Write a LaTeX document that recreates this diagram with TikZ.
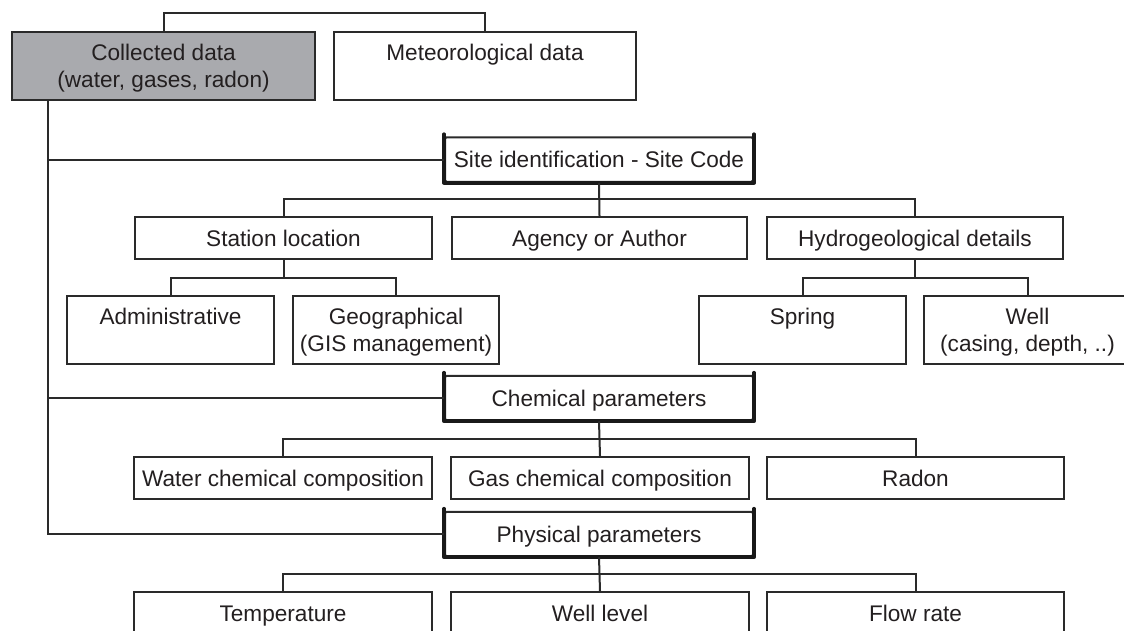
\documentclass[tikz,border=0pt]{standalone}
\usepackage{fontspec}
\setmainfont{Liberation Sans}
\usetikzlibrary{calc}
\definecolor{lineclr}{HTML}{2A2A2A}
\definecolor{txtclr}{HTML}{231F20}
\definecolor{grayfill}{HTML}{A9AAAE}
\newcommand\ls{\rule[-5.5pt]{0pt}{27pt}}
\tikzset{
  box/.style={draw=lineclr, line width=2pt, fill=white, rectangle, inner sep=0pt,
    align=center, text=txtclr, font=\fontsize{22.6}{27}\selectfont},
  tallbox/.style={box, minimum height=68pt},
  lowbox/.style={box, minimum height=42pt},
  mainbox/.style={box, minimum height=44.5pt, minimum width=308pt, rounded corners=1.5pt},
  thickedge/.style={draw=black!90, line width=3.8pt, line join=round, line cap=round},
  conn/.style={draw=lineclr, line width=2pt},
}
\begin{document}
\begin{tikzpicture}[x=1pt, y=-1pt]
\clip (0,0) rectangle (1124,630);
\fill[white] (0,0) rectangle (1124,630);

% top row
\node[tallbox, fill=grayfill, minimum width=303pt] (coll) at (163.5,66) {\ls Collected data\\\ls (water, gases, radon)};
\node[tallbox, minimum width=302pt] (met) at (485,66) {\ls Meteorological data\\\ls};

% main boxes
\node[mainbox] (site) at (599,159.5) {\ls Site identification - Site Code};
\node[mainbox] (chem) at (599,398) {\ls Chemical parameters};
\node[mainbox] (phys) at (599,534) {\ls Physical parameters};
\foreach \n in {site,chem,phys}{
  \draw[thickedge] ([yshift=2pt]\n.north west) -- (\n.south west) -- (\n.south east) -- ([yshift=2pt]\n.north east);
}

% site children
\node[lowbox, minimum width=297pt] (station) at (283.5,238) {\ls Station location};
\node[lowbox, minimum width=295pt] (agency) at (599.5,238) {\ls Agency or Author};
\node[lowbox, minimum width=296pt] (hydro) at (915,238) {\ls Hydrogeological details};

\node[tallbox, minimum width=207pt] (admin) at (170.5,330) {\ls Administrative\\\ls};
\node[tallbox, minimum width=206pt] (geo) at (396,330) {\ls Geographical\\\ls (GIS management)};
\node[tallbox, minimum width=207pt] (spring) at (802.5,330) {\ls Spring\\\ls};
\node[tallbox, minimum width=207pt] (well) at (1027.5,330) {\ls Well\\\ls (casing, depth, ..)};

% chemical children
\node[lowbox, minimum width=298pt] (water) at (283,478) {\ls Water chemical composition};
\node[lowbox, minimum width=298pt] (gas) at (600,478) {\ls Gas chemical composition};
\node[lowbox, minimum width=297pt] (radon) at (915.5,478) {\ls Radon};

% physical children
\node[lowbox, minimum width=298pt] (temp) at (283,613) {\ls Temperature};
\node[lowbox, minimum width=298pt] (wlevel) at (600,613) {\ls Well level};
\node[lowbox, minimum width=297pt] (flow) at (915.5,613) {\ls Flow rate};

% connectors
\draw[conn] (coll.north) -- ++(0,-18) -| (met.north);

\coordinate (spine) at ([xshift=37pt]coll.south west);
\draw[conn] (spine) |- (phys.west);
\draw[conn] (spine |- site.west) -- (site.west);
\draw[conn] (spine |- chem.west) -- (chem.west);

\coordinate (j1) at ($(site.south)!0.5!(agency.north)$);
\draw[conn] (site.south) -- (agency.north);
\draw[conn] (station.north) |- (j1) -| (hydro.north);

\coordinate (j2) at ($(station.south)!0.5!(station.south |- admin.north)$);
\draw[conn] (station.south) -- (j2);
\draw[conn] (admin.north) |- (j2) -| (geo.north);

\coordinate (j3) at ($(hydro.south)!0.5!(hydro.south |- spring.north)$);
\draw[conn] (hydro.south) -- (j3);
\draw[conn] (spring.north) |- (j3) -| (well.north);

\coordinate (j4) at ($(chem.south)!0.5!(chem.south |- gas.north)$);
\draw[conn] (chem.south) -- (gas.north);
\draw[conn] (water.north) |- (j4) -| (radon.north);

\coordinate (j5) at ($(phys.south)!0.5!(phys.south |- wlevel.north)$);
\draw[conn] (phys.south) -- (wlevel.north);
\draw[conn] (temp.north) |- (j5) -| (flow.north);
\end{tikzpicture}
\end{document}
